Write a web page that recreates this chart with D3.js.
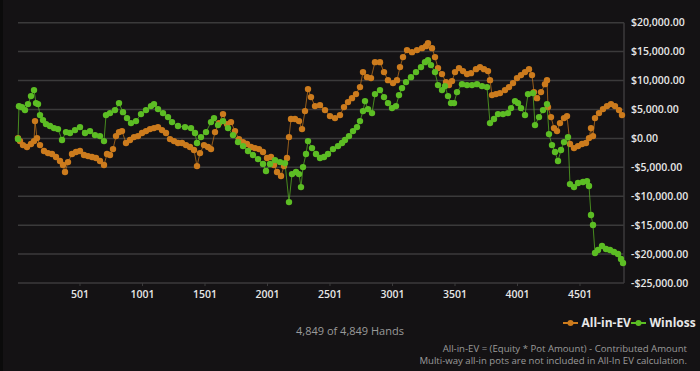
<!DOCTYPE html>
<meta charset="utf-8">
<style>
body { margin: 0; background: #141214; }
svg { display: block; }
.ylab, .xlab { font: 600 10.5px "Open Sans", sans-serif; fill: #e6e6e6; }
.note { font: 9.6px "Open Sans", sans-serif; fill: #9a9a9a; }
.legend text { font: 700 12px "Open Sans", sans-serif; fill: #e8e8e8; }
</style>
<body>
<svg width="700" height="371"></svg>
<script src="https://cdn.jsdelivr.net/npm/d3@7"></script>
<script>
// hands on x, dollars on y
var yTicks = [20000, 15000, 10000, 5000, 0, -5000, -10000, -15000, -20000, -25000];
var xTicks = [501, 1001, 1501, 2001, 2501, 3001, 3501, 4001, 4501];

var wlHands = [5, 13, 37, 61, 85, 109, 133, 149, 165, 181, 205, 229, 261, 293, 325, 357, 389, 421, 461, 501,
  541, 581, 621, 661, 693, 709, 741, 781, 813, 845, 877, 909, 949, 989, 1029, 1069, 1093, 1125, 1165, 1205,
  1237, 1285, 1341, 1389, 1421, 1437, 1469, 1509, 1549, 1573, 1605, 1645, 1685, 1725, 1765, 1805, 1845, 1885, 1925, 1965,
  1989, 2021, 2061, 2101, 2141, 2173, 2197, 2229, 2253, 2269, 2285, 2309, 2325, 2357, 2389, 2421, 2453, 2485, 2525, 2565,
  2597, 2621, 2653, 2685, 2717, 2741, 2765, 2781, 2805, 2837, 2861, 2901, 2933, 2965, 2997, 3029, 3053, 3077, 3109, 3149,
  3189, 3229, 3261, 3285, 3309, 3341, 3365, 3397, 3421, 3445, 3469, 3493, 3517, 3557, 3597, 3637, 3677, 3717, 3757, 3781,
  3813, 3845, 3885, 3925, 3949, 3981, 4005, 4029, 4061, 4085, 4125, 4141, 4173, 4205, 4237, 4253, 4277, 4301, 4325, 4349,
  4373, 4405, 4421, 4453, 4485, 4525, 4557, 4573, 4589, 4605, 4621, 4645, 4677, 4709, 4741, 4773, 4805, 4829, 4845];
var winloss = [-100, 5560, 5390, 4890, 5930, 7310, 8350, 6100, 5930, 4030, 3160, 2470, 2130, 1780, 1610, -290, 1090, 920, 1430, 1950,
  920, 1260, 570, 400, -470, 4030, 4370, 4890, 6100, 4540, 3510, 2640, 2990, 4200, 4890, 5580, 5930, 5060, 4370, 3680,
  2820, 2130, 1950, 1780, 920, -810, 220, 1090, 2820, 3510, 2300, 2990, 1780, 570, -640, -1330, -2190, -2880, -3580, -4440,
  -5650, -4440, -3750, -4100, -4270, -11010, -6170, -5820, -6170, -8420, -4960, -2710, -470, -1680, -2710, -3400, -3230, -2710, -1850, -1330,
  -810, -290, 400, 1260, 1950, 2990, 4720, 6450, 5060, 4370, 7660, 8350, 7140, 6100, 5240, 5580, 7480, 8690, 9730, 10590,
  11460, 12320, 13180, 13530, 12670, 11460, 9210, 8350, 9040, 7310, 6100, 6100, 8000, 9380, 9210, 9210, 9380, 9040, 8870, 2640,
  3340, 4200, 4200, 4370, 5240, 6450, 6100, 5240, 4030, 7660, 7830, 2300, 3680, 4890, 5930, 740, -1160, -2360, -3920, -2020,
  -640, 220, -7900, -8420, -7720, -7550, -7380, -8240, -13250, -14980, -19820, -19300, -18610, -19130, -19300, -19650, -19990, -20860, -21550];

var evHands = [5, 21, 45, 77, 109, 133, 141, 157, 181, 213, 245, 277, 309, 341, 365, 381, 405, 437, 469, 501,
  533, 565, 597, 629, 661, 693, 717, 741, 765, 789, 813, 837, 869, 901, 933, 965, 997, 1029, 1061, 1093,
  1125, 1157, 1189, 1221, 1253, 1285, 1317, 1349, 1381, 1413, 1437, 1461, 1493, 1525, 1549, 1581, 1613, 1645, 1677, 1709,
  1741, 1773, 1805, 1837, 1869, 1901, 1933, 1965, 1997, 2029, 2053, 2077, 2109, 2133, 2157, 2173, 2189, 2221, 2253, 2277,
  2301, 2325, 2349, 2381, 2421, 2461, 2501, 2541, 2581, 2613, 2645, 2677, 2709, 2741, 2765, 2797, 2829, 2861, 2901, 2933,
  2965, 3005, 3037, 3061, 3085, 3117, 3157, 3197, 3237, 3269, 3285, 3317, 3341, 3365, 3397, 3429, 3453, 3477, 3501, 3533,
  3565, 3597, 3629, 3669, 3701, 3733, 3765, 3781, 3797, 3829, 3861, 3901, 3933, 3965, 3997, 4029, 4061, 4093, 4117, 4133,
  4157, 4189, 4221, 4237, 4245, 4269, 4293, 4317, 4341, 4373, 4397, 4421, 4453, 4485, 4517, 4549, 4573, 4589, 4605, 4621,
  4653, 4685, 4717, 4749, 4781, 4813, 4837];
var allinEV = [50, -470, -1160, -1500, -980, -470, 2990, 50, -1160, -2190, -2540, -2710, -3230, -3920, -4610, -5820, -4100, -2710, -2360, -2190,
  -2880, -3060, -3230, -3400, -3920, -4610, -2710, -2880, -1850, 400, 1090, 1260, -810, -290, 220, 400, 920, 1260, 1610, 1780,
  1950, 1430, 920, -120, -470, -810, -810, -1160, -1500, -2020, -4790, -2540, -1160, -1500, -1850, 1090, 2640, 4200, 2470, 2820,
  1260, -120, -640, -980, -1500, -1680, -1850, -2360, -3400, -3230, -4610, -5820, -6510, -4790, -3400, 220, 3340, 3340, 2990, 1610,
  4720, 8520, 7140, 5580, 5750, 4890, 3850, 3510, 4030, 5410, 6270, 6960, 7660, 8870, 11460, 10590, 10420, 13180, 13180, 11460,
  10070, 9560, 10070, 12320, 14050, 15260, 14910, 15260, 15600, 15950, 16470, 15600, 14050, 12150, 11110, 9730, 9210, 9900, 11460, 12150,
  11630, 11110, 11280, 11970, 12320, 11970, 11630, 10070, 7480, 7660, 7830, 8350, 8870, 9560, 10420, 10940, 11460, 11970, 10940, 8000,
  6960, 8000, 9380, 10070, 5410, 3680, 1780, 1260, 2640, 3510, 3850, -980, -1680, -1330, -980, -810, 50, 1780, 400, 3510,
  4370, 5060, 5580, 5930, 5580, 4890, 4030];

var svg = d3.select("svg");
var orange = "#cc7b1d", green = "#5cbd24";

var x = d3.scaleLinear().domain([1, 4849]).range([17.5, 623.5]);
var y = d3.scaleLinear().domain([-25000, 20000]).range([283, 22.7]);

svg.append("rect").attr("width", 3).attr("height", 371).attr("fill", "#0b0b0b");

// grid
svg.append("g").selectAll("line").data(yTicks).enter().append("line")
  .attr("x1", 18).attr("x2", 624)
  .attr("y1", function(d) { return y(d); }).attr("y2", function(d) { return y(d); })
  .attr("stroke", "#3b3a3b").attr("stroke-width", 1.5);
svg.append("line").attr("x1", 624).attr("x2", 624).attr("y1", y(20000)).attr("y2", y(-25000))
  .attr("stroke", "#3b3a3b").attr("stroke-width", 1.5);

var fmt = d3.format(",.2f");
svg.append("g").selectAll("text").data(yTicks).enter().append("text")
  .attr("class", "ylab")
  .attr("x", 631).attr("y", function(d) { return y(d); }).attr("dy", "0.35em")
  .text(function(d) { return (d < 0 ? "-$" : "$") + fmt(Math.abs(d)); });

var xg = svg.append("g").attr("transform", "translate(0,283)");
xg.selectAll("line").data(xTicks).enter().append("line")
  .attr("x1", function(d) { return x(d); }).attr("x2", function(d) { return x(d); })
  .attr("y1", 0).attr("y2", 3).attr("stroke", "#3b3a3b");
xg.selectAll("text").data(xTicks).enter().append("text")
  .attr("class", "xlab").attr("text-anchor", "middle")
  .attr("x", function(d) { return x(d); }).attr("y", 15)
  .text(function(d) { return d; });

function series(hands, vals, color) {
  var pts = hands.map(function(h, i) { return [h, vals[i]]; });
  var g = svg.append("g");
  g.append("path").datum(pts)
    .attr("d", d3.line().x(function(d) { return x(d[0]); }).y(function(d) { return y(d[1]); }))
    .attr("fill", "none").attr("stroke", color).attr("stroke-width", 1).attr("stroke-opacity", 0.7);
  g.selectAll("circle").data(pts).enter().append("circle")
    .attr("cx", function(d) { return x(d[0]); }).attr("cy", function(d) { return y(d[1]); })
    .attr("r", 3.2).attr("fill", color);
}
series(evHands, allinEV, orange);
series(wlHands, winloss, green);

svg.append("text").attr("class", "note").attr("x", 350).attr("y", 335)
  .attr("text-anchor", "middle").style("font-size", "11px").text("4,849 of 4,849 Hands");

var legend = svg.append("g").attr("class", "legend");
[["All-in-EV", orange, 563], ["Winloss", green, 631]].forEach(function(l) {
  legend.append("line").attr("x1", l[2]).attr("x2", l[2] + 15).attr("y1", 323).attr("y2", 323)
    .attr("stroke", l[1]).attr("stroke-width", 2);
  legend.append("circle").attr("cx", l[2] + 7.5).attr("cy", 323).attr("r", 3).attr("fill", l[1]);
  legend.append("text").attr("x", l[2] + 18.5).attr("y", 323).attr("dy", "0.35em").text(l[0]);
});

svg.append("text").attr("class", "note").attr("x", 687).attr("y", 352).attr("text-anchor", "end")
  .text("All-in-EV = (Equity * Pot Amount) - Contributed Amount");
svg.append("text").attr("class", "note").attr("x", 687).attr("y", 364).attr("text-anchor", "end")
  .text("Multi-way all-in pots are not included in All-In EV calculation.");
</script>
</body>
